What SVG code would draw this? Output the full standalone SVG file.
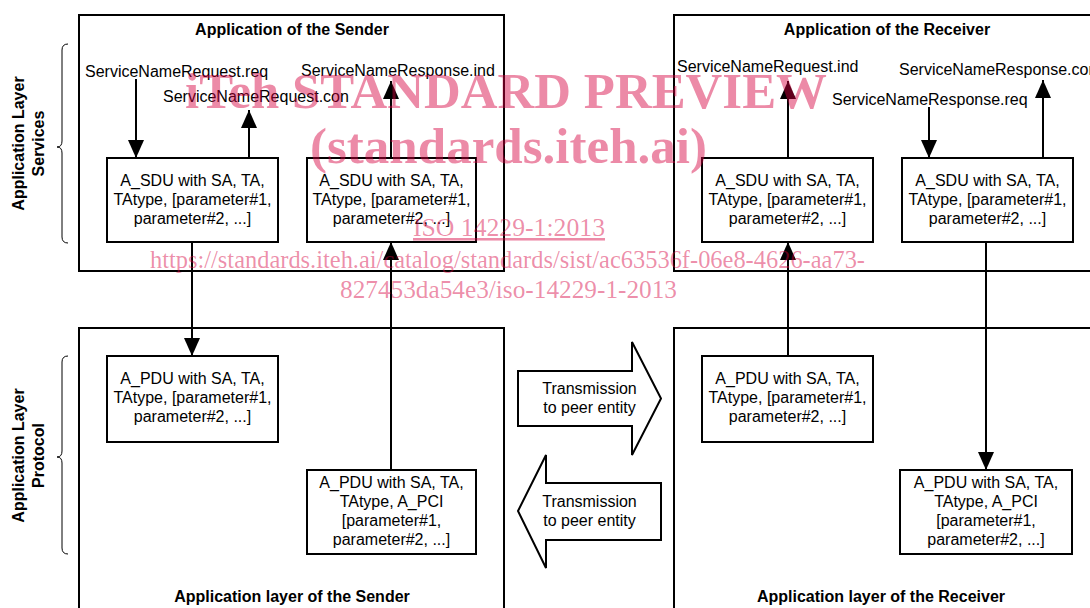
<svg xmlns="http://www.w3.org/2000/svg" width="1090" height="608" viewBox="0 0 1090 608">
<style>
.frame{fill:none;stroke:#000;stroke-width:2}
.box{fill:#fff;stroke:#000;stroke-width:2}
.conn{fill:none;stroke:#000;stroke-width:2}
.brace{fill:none;stroke:#000;stroke-width:1}
.t{font-family:"Liberation Sans",Arial,sans-serif;font-size:16px;fill:#000}
.c{text-anchor:middle}
.b{font-weight:bold}
.wm{font-family:"Liberation Serif","Times New Roman",serif;fill:#D6003F;fill-opacity:0.46;text-anchor:middle}
</style>
<defs>
<marker id="ah" markerUnits="userSpaceOnUse" viewBox="0 0 18 16" markerWidth="18" markerHeight="16" refX="18" refY="8" orient="auto">
<path d="M0,0 L18,8 L0,16 z" fill="#000"/>
</marker>
</defs>

<g id="frames">
<rect class="frame" x="79" y="15" width="425" height="256"/>
<rect class="frame" x="674" y="15" width="500" height="256"/>
<rect class="frame" x="79" y="328" width="425" height="300"/>
<rect class="frame" x="674" y="328" width="500" height="300"/>
<text class="t b c" x="292" y="35">Application of the Sender</text>
<text class="t b c" x="887" y="35">Application of the Receiver</text>
<text class="t b c" x="292" y="602">Application layer of the Sender</text>
<text class="t b c" x="881" y="602">Application layer of the Receiver</text>
</g>

<g id="side-labels">
<path class="brace" d="M68,44 Q62,44 62,50 L62,141 Q62,147 57,147 Q62,147 62,153 L62,237 Q62,243 68,243"/>
<path class="brace" d="M68,356 Q62,356 62,362 L62,451 Q62,457 57,457 Q62,457 62,463 L62,548 Q62,554 68,554"/>
<text class="t b c" transform="translate(24,143.5) rotate(-90)">Application Layer</text>
<text class="t b c" transform="translate(43.5,143.5) rotate(-90)">Services</text>
<text class="t b c" transform="translate(24,455.5) rotate(-90)">Application Layer</text>
<text class="t b c" transform="translate(43.5,455.5) rotate(-90)">Protocol</text>
</g>

<g id="connectors">
<line class="conn" x1="136" y1="79" x2="136" y2="158" marker-end="url(#ah)"/>
<line class="conn" x1="249" y1="158" x2="249" y2="110" marker-end="url(#ah)"/>
<line class="conn" x1="391" y1="158" x2="391" y2="81" marker-end="url(#ah)"/>
<line class="conn" x1="192" y1="242" x2="192" y2="356" marker-end="url(#ah)"/>
<line class="conn" x1="391" y1="470" x2="391" y2="242" marker-end="url(#ah)"/>
<line class="conn" x1="788" y1="356" x2="788" y2="242" marker-end="url(#ah)"/>
<line class="conn" x1="788" y1="158" x2="788" y2="81" marker-end="url(#ah)"/>
<line class="conn" x1="929" y1="107" x2="929" y2="158" marker-end="url(#ah)"/>
<line class="conn" x1="1043" y1="158" x2="1043" y2="80" marker-end="url(#ah)"/>
<line class="conn" x1="986" y1="242" x2="986" y2="470" marker-end="url(#ah)"/>
<text class="t" x="85" y="77">ServiceNameRequest.req</text>
<text class="t" x="163" y="102">ServiceNameRequest.con</text>
<text class="t" x="301" y="76">ServiceNameResponse.ind</text>
<text class="t" x="677" y="72">ServiceNameRequest.ind</text>
<text class="t" x="899" y="75">ServiceNameResponse.con</text>
<text class="t" x="832" y="105">ServiceNameResponse.req</text>
</g>

<g id="sdu-sender-down">
<rect class="box" x="107" y="158" width="171" height="84"/>
<text class="t c" x="192.5" y="186">A_SDU with SA, TA,</text>
<text class="t c" x="192.5" y="205">TAtype, [parameter#1,</text>
<text class="t c" x="192.5" y="224">parameter#2, ...]</text>
</g>
<g id="sdu-sender-up">
<rect class="box" x="307" y="158" width="169" height="84"/>
<text class="t c" x="391.5" y="186">A_SDU with SA, TA,</text>
<text class="t c" x="391.5" y="205">TAtype, [parameter#1,</text>
<text class="t c" x="391.5" y="224">parameter#2, ...]</text>
</g>
<g id="sdu-receiver-up">
<rect class="box" x="702" y="158" width="171" height="84"/>
<text class="t c" x="787.5" y="186">A_SDU with SA, TA,</text>
<text class="t c" x="787.5" y="205">TAtype, [parameter#1,</text>
<text class="t c" x="787.5" y="224">parameter#2, ...]</text>
</g>
<g id="sdu-receiver-down">
<rect class="box" x="902" y="158" width="171" height="84"/>
<text class="t c" x="987.5" y="186">A_SDU with SA, TA,</text>
<text class="t c" x="987.5" y="205">TAtype, [parameter#1,</text>
<text class="t c" x="987.5" y="224">parameter#2, ...]</text>
</g>

<g id="pdu-sender-1">
<rect class="box" x="107" y="356" width="171" height="86"/>
<text class="t c" x="192.5" y="384">A_PDU with SA, TA,</text>
<text class="t c" x="192.5" y="403">TAtype, [parameter#1,</text>
<text class="t c" x="192.5" y="422">parameter#2, ...]</text>
</g>
<g id="pdu-sender-2">
<rect class="box" x="307" y="470" width="169" height="84"/>
<text class="t c" x="391.5" y="488">A_PDU with SA, TA,</text>
<text class="t c" x="391.5" y="507">TAtype, A_PCI</text>
<text class="t c" x="391.5" y="526">[parameter#1,</text>
<text class="t c" x="391.5" y="545">parameter#2, ...]</text>
</g>
<g id="pdu-receiver-1">
<rect class="box" x="702" y="356" width="171" height="86"/>
<text class="t c" x="787.5" y="384">A_PDU with SA, TA,</text>
<text class="t c" x="787.5" y="403">TAtype, [parameter#1,</text>
<text class="t c" x="787.5" y="422">parameter#2, ...]</text>
</g>
<g id="pdu-receiver-2">
<rect class="box" x="900" y="470" width="172" height="84"/>
<text class="t c" x="986" y="488">A_PDU with SA, TA,</text>
<text class="t c" x="986" y="507">TAtype, A_PCI</text>
<text class="t c" x="986" y="526">[parameter#1,</text>
<text class="t c" x="986" y="545">parameter#2, ...]</text>
</g>

<g id="transmission-right">
<polygon class="box" points="518,371 632,371 632,342 661,398.5 632,455 632,426 518,426"/>
<text class="t c" x="589.5" y="394">Transmission</text>
<text class="t c" x="589.5" y="413">to peer entity</text>
</g>
<g id="transmission-left">
<polygon class="box" points="518,511 546,455 546,483 661,483 661,540 546,540 546,568"/>
<text class="t c" x="589.5" y="507">Transmission</text>
<text class="t c" x="589.5" y="526">to peer entity</text>
</g>

<g id="watermark">
<text class="wm" x="506" y="108" font-size="50" font-weight="bold" textLength="642" lengthAdjust="spacingAndGlyphs">iTeh STANDARD PREVIEW</text>
<text class="wm" x="508.5" y="163" font-size="50" font-weight="bold" textLength="397" lengthAdjust="spacingAndGlyphs">(standards.iteh.ai)</text>
<text class="wm" x="509" y="236" font-size="25.5" text-decoration="underline" textLength="192" lengthAdjust="spacingAndGlyphs">ISO 14229-1:2013</text>
<text class="wm" x="507.5" y="268" font-size="25" textLength="715" lengthAdjust="spacingAndGlyphs">https://standards.iteh.ai/catalog/standards/sist/ac63536f-06e8-4626-aa73-</text>
<text class="wm" x="508.5" y="298" font-size="25" textLength="337" lengthAdjust="spacingAndGlyphs">827453da54e3/iso-14229-1-2013</text>
</g>
</svg>
